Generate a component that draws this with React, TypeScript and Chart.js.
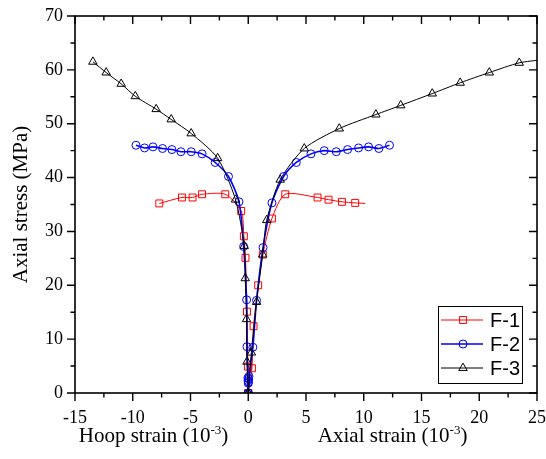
import React, { useEffect, useRef } from "react";
import { Chart, registerables } from "chart.js";

Chart.register(...registerables);

const xTickValues = [-15, -10, -5, 0, 5, 10, 15, 20, 25];
const xMinorTicks = [-12.5, -7.5, -2.5, 2.5, 7.5, 12.5, 17.5, 22.5];
const yTickValues = [0, 10, 20, 30, 40, 50, 60, 70];
const yMinorTicks = [5, 15, 25, 35, 45, 55, 65];

const seriesNames = ["F-1", "F-2", "F-3"];

// F-1
const f1Hoop = [[0, 0], [-0.03, 4.9], [-0.11, 15.1], [-0.24, 25.1], [-0.38, 29.1], [-0.61, 33.8], [-1.99, 36.9], [-4.0, 36.9], [-4.82, 36.3], [-5.74, 36.3], [-7.7, 35.2]];
const f1HoopTail: number[][] = [];
const f1Axial = [[0, 0], [0.32, 4.6], [0.46, 12.4], [0.86, 20.0], [1.26, 25.7], [2.05, 32.4], [3.2, 36.9], [6.0, 36.3], [6.95, 35.9], [8.11, 35.5], [9.26, 35.3]];
const f1AxialTail = [[10.13, 35.2]];

// F-2
const f2Hoop = [[0, 0], [0, 1.8], [-0.02, 2.3], [-0.03, 2.8], [-0.11, 8.6], [-0.14, 17.3], [-0.4, 27.2], [-0.8, 35.5], [-1.71, 40.2], [-2.86, 42.8], [-4.0, 44.4], [-4.94, 44.8], [-5.83, 44.8], [-6.61, 45.2], [-7.42, 45.4], [-8.25, 45.7], [-8.98, 45.5], [-9.72, 46.0]];
const f2HoopTail: number[][] = [];
const f2Axial = [[0, 0], [0.02, 2.0], [0.04, 2.6], [0.06, 3.1], [0.4, 8.5], [0.72, 17.2], [1.28, 27.0], [2.05, 35.3], [3.06, 40.2], [4.16, 42.8], [5.43, 44.4], [6.58, 45.0], [7.62, 44.8], [8.6, 45.2], [9.55, 45.5], [10.42, 45.7], [11.31, 45.4], [12.23, 46.0]];
const f2AxialTail: number[][] = [];

// F-3
const f3Hoop = [[0, 0], [-0.11, 5.8], [-0.15, 13.7], [-0.26, 21.3], [-0.35, 27.3], [-1.1, 35.9], [-2.65, 43.6], [-4.94, 48.2], [-6.67, 50.8], [-7.97, 52.7], [-9.78, 55.1], [-11.0, 57.4], [-12.3, 59.5], [-13.45, 61.5]];
const f3HoopTail: number[][] = [];
const f3Axial = [[0, 0], [0.27, 7.5], [0.72, 16.9], [1.25, 25.7], [1.6, 32.1], [2.77, 39.6], [4.85, 45.4], [7.88, 49.1], [11.05, 51.7], [13.2, 53.4], [15.93, 55.6], [18.35, 57.6], [20.87, 59.5], [23.46, 61.3]];
const f3AxialTail = [[25.5, 61.9]];

const SERIF = '"Liberation Serif", "Times New Roman", serif';
const SANS = '"Liberation Sans", Arial, sans-serif';

const styles = [
  { color: "#ff0000", pointStyle: "rect", radius: 4.9, lineWidth: 1 },
  { color: "#0000ff", pointStyle: "circle", radius: 4.0, lineWidth: 1.6 },
  { color: "#000000", pointStyle: "triangle", radius: 4.9, lineWidth: 1 },
];

const branches = [
  [f1Hoop, f1HoopTail, f1Axial, f1AxialTail],
  [f2Hoop, f2HoopTail, f2Axial, f2AxialTail],
  [f3Hoop, f3HoopTail, f3Axial, f3AxialTail],
];

function makeDataset(markers: number[][], tail: number[][], si: number) {
  const st = styles[si];
  const pts = [...markers, ...tail].map(([x, y]) => ({ x, y }));
  const n = markers.length;
  return {
    label: seriesNames[si],
    data: pts,
    showLine: true,
    borderColor: st.color,
    borderWidth: st.lineWidth,
    backgroundColor: "rgba(0,0,0,0)",
    pointBackgroundColor: "rgba(0,0,0,0)",
    pointBorderColor: st.color,
    pointBorderWidth: 1,
    pointStyle: st.pointStyle,
    pointRadius: (ctx: any) => (ctx.dataIndex < n ? st.radius : 0),
    tension: 0.25,
    order: 2 - si,
  };
}

const framePlugin = {
  id: "framePlugin",
  afterDraw(chart: any) {
    const { ctx, chartArea } = chart;
    const xs = chart.scales.x;
    const ys = chart.scales.y;
    const { left, right, top, bottom } = chartArea;
    ctx.save();
    ctx.strokeStyle = "#000";
    ctx.lineWidth = 1.6;
    ctx.strokeRect(left, top, right - left, bottom - top);
    ctx.lineWidth = 1.4;
    const major = 8, minor = 4.5;
    ctx.beginPath();
    const xt = (v: number, len: number) => {
      const p = xs.getPixelForValue(v);
      ctx.moveTo(p, bottom); ctx.lineTo(p, bottom + len);
      ctx.moveTo(p, top); ctx.lineTo(p, top + len);
    };
    const yt = (v: number, len: number) => {
      const p = ys.getPixelForValue(v);
      ctx.moveTo(left, p); ctx.lineTo(left - len, p);
      ctx.moveTo(right, p); ctx.lineTo(right - len, p);
    };
    xTickValues.forEach((v) => xt(v, major));
    xMinorTicks.forEach((v) => xt(v, minor));
    yTickValues.forEach((v) => yt(v, major));
    yMinorTicks.forEach((v) => yt(v, minor));
    ctx.stroke();

    // x-axis titles
    const drawTitle = (main: string, sup: string, cx: number, baseline: number) => {
      ctx.fillStyle = "#000";
      ctx.textBaseline = "alphabetic";
      ctx.textAlign = "left";
      ctx.font = `21px ${SERIF}`;
      const w1 = ctx.measureText(main).width;
      ctx.font = `13px ${SERIF}`;
      const w2 = ctx.measureText(sup).width;
      ctx.font = `21px ${SERIF}`;
      const w3 = ctx.measureText(")").width;
      let x = cx - (w1 + w2 + w3) / 2;
      ctx.fillText(main, x, baseline);
      x += w1;
      ctx.font = `13px ${SERIF}`;
      ctx.fillText(sup, x, baseline - 8);
      x += w2;
      ctx.font = `21px ${SERIF}`;
      ctx.fillText(")", x, baseline);
    };
    drawTitle("Hoop strain (10", "-3", xs.getPixelForValue(-8.2), 442);
    drawTitle("Axial strain (10", "-3", xs.getPixelForValue(12.5), 442);

    // legend
    const bx = right - 99, by = bottom - 87, bw = 84, bh = 77;
    ctx.fillStyle = "#fff";
    ctx.fillRect(bx, by, bw, bh);
    ctx.strokeStyle = "#000";
    ctx.lineWidth = 1;
    ctx.strokeRect(bx + 0.5, by + 0.5, bw, bh);
    seriesNames.forEach((name, i) => {
      const st = styles[i];
      const cy = by + 14 + i * 24;
      ctx.strokeStyle = st.color;
      ctx.lineWidth = st.lineWidth;
      ctx.beginPath();
      ctx.moveTo(bx + 3, cy);
      ctx.lineTo(bx + 45, cy);
      ctx.stroke();
      ctx.lineWidth = 1;
      ctx.beginPath();
      const mx = bx + 25;
      if (st.pointStyle === "rect") {
        const s = st.radius * Math.SQRT1_2;
        ctx.rect(mx - s, cy - s, 2 * s, 2 * s);
      } else if (st.pointStyle === "circle") {
        ctx.arc(mx, cy, st.radius, 0, Math.PI * 2);
      } else {
        const r = st.radius;
        ctx.moveTo(mx, cy - r);
        ctx.lineTo(mx + r * 0.866, cy + r * 0.5);
        ctx.lineTo(mx - r * 0.866, cy + r * 0.5);
        ctx.closePath();
      }
      ctx.stroke();
      ctx.fillStyle = "#000";
      ctx.font = `20px ${SANS}`;
      ctx.textAlign = "left";
      ctx.textBaseline = "middle";
      ctx.fillText(name, bx + 52, cy + 1);
    });
    ctx.restore();
  },
};

export default function App() {
  const ref = useRef<HTMLCanvasElement | null>(null);
  useEffect(() => {
    if (!ref.current) return;
    const datasets: any[] = [];
    branches.forEach((b, si) => {
      datasets.push(makeDataset(b[0], b[1], si));
      datasets.push(makeDataset(b[2], b[3], si));
    });
    const chart = new Chart(ref.current, {
      type: "scatter",
      data: { datasets },
      options: {
        animation: false,
        responsive: false,
        devicePixelRatio: 1,
        layout: { padding: { top: 16, right: 9, left: 0, bottom: 0 } },
        plugins: { legend: { display: false }, tooltip: { enabled: false } },
        scales: {
          x: {
            type: "linear",
            min: -15,
            max: 25,
            afterBuildTicks: (scale: any) => {
              scale.ticks = xTickValues.map((v) => ({ value: v }));
            },
            afterFit: (scale: any) => {
              scale.height = 66;
              scale.paddingLeft = 0;
              scale.paddingRight = 0;
            },
            grid: { display: false, drawTicks: false, tickLength: 0 },
            border: { display: false },
            ticks: {
              color: "#000",
              font: { family: SERIF, size: 18 },
              padding: 14,
              maxRotation: 0,
              autoSkip: false,
            },
          },
          y: {
            type: "linear",
            min: 0,
            max: 70,
            afterBuildTicks: (scale: any) => {
              scale.ticks = yTickValues.map((v) => ({ value: v }));
            },
            afterFit: (scale: any) => {
              scale.width = 75;
              scale.paddingTop = 0;
              scale.paddingBottom = 0;
            },
            grid: { display: false, drawTicks: false, tickLength: 0 },
            border: { display: false },
            ticks: {
              color: "#000",
              font: { family: SERIF, size: 18 },
              padding: 12,
              autoSkip: false,
            },
            title: {
              display: true,
              text: "Axial stress (MPa)",
              color: "#000",
              font: { family: SERIF, size: 21 },
              padding: { top: 9, bottom: 0 },
            },
          },
        },
      } as any,
      plugins: [framePlugin],
    });
    return () => chart.destroy();
  }, []);
  return (
    <div style={{ position: "absolute", left: 0, top: 0, width: 546, height: 459 }}>
      <canvas ref={ref} width={546} height={459} />
    </div>
  );
}
